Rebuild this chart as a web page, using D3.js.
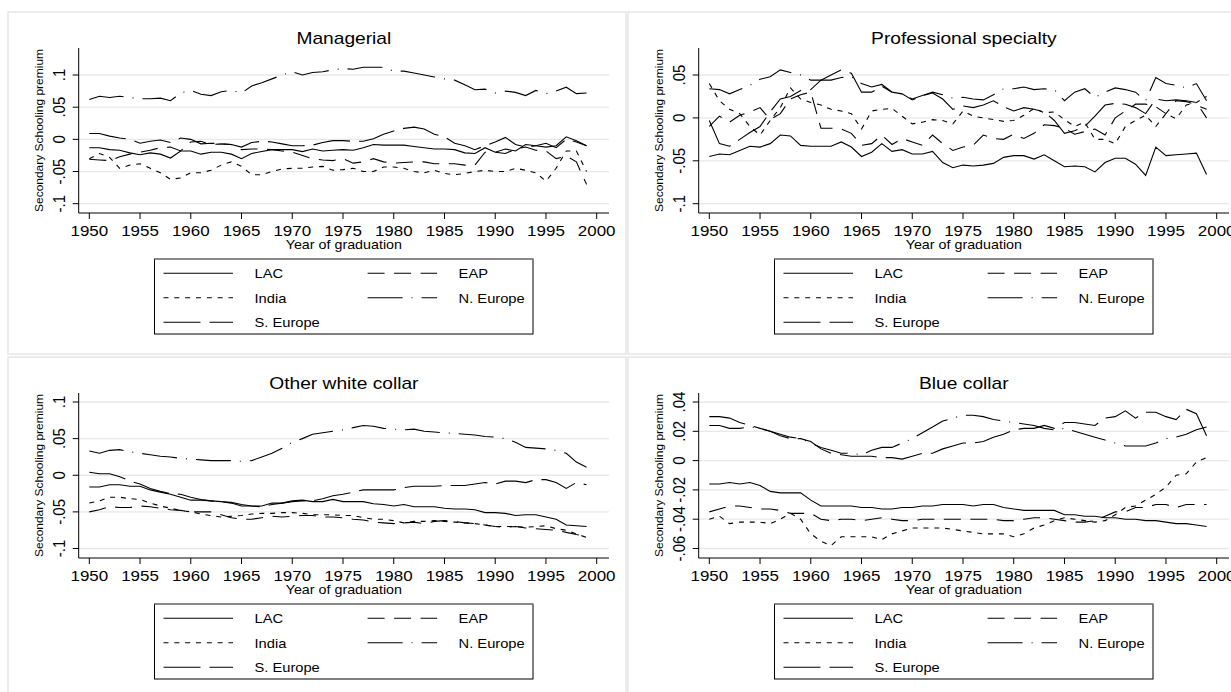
<!DOCTYPE html>
<html>
<head>
<meta charset="utf-8">
<script src="https://cdn.jsdelivr.net/npm/d3@7"></script>
<style>
  body { margin: 0; background: #fff; }
  svg { display: block; }
  text { font-family: "Liberation Sans", Arial, sans-serif; fill: #000; }
</style>
</head>
<body>
<svg id="chart" width="1231" height="692"></svg>
<script>
// x values: year of graduation
const years = [1950,1951,1952,1953,1954,1955,1956,1957,1958,1959,
  1960,1961,1962,1963,1964,1965,1966,1967,1968,1969,
  1970,1971,1972,1973,1974,1975,1976,1977,1978,1979,
  1980,1981,1982,1983,1984,1985,1986,1987,1988,1989,
  1990,1991,1992,1993,1994,1995,1996,1997,1998,1999];
const xTicks = [1950,1955,1960,1965,1970,1975,1980,1985,1990,1995,2000];
const seriesNames = ["LAC", "EAP", "India", "N. Europe", "S. Europe"];

// Managerial
const managerialLAC = [-.013,-.013,-.016,-.017,-.021,-.024,-.021,-.023,-.029,-.018,
  -.018,-.023,-.02,-.02,-.023,-.03,-.022,-.019,-.016,-.016,
  -.016,-.019,-.015,-.018,-.017,-.016,-.017,-.013,-.008,-.009,
  -.009,-.009,-.011,-.013,-.015,-.015,-.016,-.021,-.022,-.013,
  -.02,-.015,-.018,-.008,-.01,-.012,-.01,.004,-.002,-.01];
const managerialEAP = [-.031,-.032,-.033,-.027,-.023,-.02,-.017,-.013,-.012,-.018,
  -.004,-.003,-.008,-.007,-.008,-.016,-.015,-.015,-.016,-.018,
  -.02,-.025,-.03,-.032,-.033,-.03,-.037,-.035,-.03,-.035,
  -.037,-.036,-.035,-.035,-.038,-.038,-.038,-.04,-.04,-.02,
  -.02,-.022,-.015,-.012,-.017,-.018,-.03,-.026,-.035,-.07];
const managerialIndia = [-.03,-.022,-.028,-.045,-.04,-.038,-.045,-.052,-.062,-.06,
  -.052,-.052,-.048,-.04,-.035,-.042,-.055,-.055,-.05,-.046,
  -.045,-.045,-.043,-.042,-.048,-.047,-.045,-.05,-.05,-.043,
  -.043,-.045,-.05,-.052,-.048,-.053,-.055,-.053,-.05,-.048,
  -.05,-.05,-.045,-.048,-.052,-.065,-.045,-.018,-.018,-.05];
const managerialNEurope = [.062,.067,.065,.067,.065,.063,.063,.064,.06,.072,
  .076,.07,.068,.074,.076,.072,.083,.088,.094,.1,
  .105,.1,.104,.105,.108,.11,.109,.112,.112,.112,
  .106,.106,.103,.1,.097,.094,.092,.085,.077,.078,
  .072,.075,.073,.068,.076,.071,.075,.081,.071,.072];
const managerialSEurope = [.009,.009,.005,.002,0,-.006,-.003,-.001,-.005,.002,
  0,-.007,-.006,-.007,-.008,-.012,-.005,-.003,-.004,-.007,
  -.01,-.01,-.009,-.005,-.002,-.002,-.003,-.003,.001,.008,
  .013,.017,.019,.016,.008,.004,-.006,-.01,-.016,-.01,
  -.004,.003,-.008,-.012,-.01,-.006,-.013,0,-.004,-.01];

// Professional specialty
const profLAC = [-.045,-.042,-.043,-.038,-.033,-.034,-.03,-.02,-.021,-.032,
  -.033,-.033,-.033,-.028,-.034,-.045,-.04,-.03,-.039,-.037,
  -.042,-.042,-.039,-.052,-.058,-.055,-.056,-.055,-.053,-.046,
  -.044,-.044,-.048,-.043,-.05,-.057,-.056,-.057,-.063,-.052,
  -.047,-.047,-.054,-.067,-.034,-.044,-.043,-.042,-.041,-.066];
const profEAP = [-.01,.002,-.005,.003,.007,.012,-.002,.005,.022,.027,
  .03,-.012,-.012,-.013,-.018,-.032,-.03,-.02,-.031,-.024,
  -.028,-.032,-.02,-.03,-.038,-.034,-.032,-.02,-.024,-.025,
  -.019,-.024,-.018,-.008,-.009,-.012,-.019,-.016,-.013,-.02,
  0,.008,.016,.016,.013,.005,.02,.019,.015,.01];
const profIndia = [.04,.02,.01,.005,-.01,-.02,-.003,.012,.035,.022,
  .018,.015,.01,.008,.005,-.013,.008,.01,.011,.002,
  -.007,-.005,-.002,-.003,-.007,.008,.002,0,-.002,-.004,
  -.003,.003,.011,.006,.007,-.002,-.01,-.005,-.025,-.025,
  -.03,-.01,-.003,.003,-.01,.005,-.001,.015,.018,.025];
const profNEurope = [.034,.033,.028,.033,.038,.045,.048,.056,.053,.05,
  .044,.044,.044,.047,.048,.04,.036,.039,.03,.028,
  .022,.026,.03,.027,.023,.024,.022,.021,.027,.034,
  .034,.036,.033,.034,.033,.02,.03,.034,.024,.03,
  .035,.033,.03,.02,.047,.04,.038,.035,.04,.02];
const profSEurope = [-.003,-.03,-.033,-.025,-.017,-.01,.007,.022,.025,.032,
  .033,.044,.05,.056,.052,.03,.03,.037,.03,.028,
  .021,.026,.029,.022,.01,.014,.012,.015,.02,.013,
  .008,.012,.01,.007,-.003,-.018,-.015,-.01,.002,.015,
  .017,.016,.012,.005,.022,.02,.021,.02,.018,0];

// Other white collar
const owcLAC = [-.016,-.016,-.013,-.013,-.015,-.015,-.02,-.023,-.026,-.03,
  -.034,-.034,-.035,-.036,-.038,-.042,-.042,-.042,-.038,-.038,
  -.035,-.034,-.036,-.036,-.033,-.036,-.036,-.036,-.039,-.04,
  -.042,-.04,-.043,-.043,-.043,-.045,-.046,-.046,-.047,-.051,
  -.051,-.052,-.055,-.054,-.054,-.057,-.06,-.068,-.069,-.07];
const owcEAP = [-.05,-.047,-.043,-.044,-.044,-.042,-.043,-.045,-.047,-.048,
  -.05,-.05,-.05,-.054,-.058,-.06,-.06,-.058,-.056,-.057,
  -.056,-.055,-.055,-.057,-.057,-.058,-.06,-.061,-.064,-.065,
  -.066,-.065,-.064,-.066,-.063,-.062,-.063,-.065,-.066,-.068,
  -.07,-.071,-.07,-.072,-.073,-.074,-.075,-.078,-.081,-.083];
const owcIndia = [-.038,-.035,-.03,-.03,-.032,-.033,-.038,-.042,-.045,-.048,
  -.05,-.053,-.055,-.057,-.056,-.055,-.053,-.052,-.052,-.051,
  -.051,-.052,-.054,-.054,-.054,-.055,-.055,-.058,-.06,-.06,
  -.062,-.065,-.063,-.063,-.062,-.063,-.064,-.065,-.066,-.068,
  -.07,-.07,-.07,-.071,-.07,-.069,-.073,-.075,-.08,-.085];
const owcNEurope = [.033,.03,.034,.035,.032,.03,.028,.026,.025,.023,
  .022,.021,.02,.02,.02,.019,.02,.025,.03,.037,
  .045,.05,.056,.058,.06,.062,.065,.068,.067,.064,
  .063,.062,.063,.06,.059,.058,.057,.056,.055,.053,
  .052,.05,.045,.038,.037,.036,.034,.03,.018,.011];
const owcSEurope = [.004,.002,.002,-.002,-.008,-.012,-.018,-.022,-.025,-.026,
  -.03,-.033,-.035,-.036,-.037,-.04,-.042,-.043,-.04,-.038,
  -.036,-.035,-.035,-.032,-.028,-.026,-.023,-.02,-.02,-.02,
  -.02,-.017,-.015,-.015,-.015,-.014,-.014,-.014,-.012,-.01,
  -.012,-.008,-.008,-.01,-.006,-.006,-.01,-.018,-.01,-.013];

// Blue collar
const bcLAC = [-.016,-.016,-.015,-.016,-.015,-.017,-.021,-.022,-.022,-.022,
  -.027,-.031,-.031,-.031,-.031,-.032,-.032,-.033,-.033,-.032,
  -.032,-.031,-.031,-.03,-.03,-.03,-.031,-.03,-.03,-.032,
  -.033,-.034,-.034,-.034,-.034,-.037,-.037,-.038,-.038,-.039,
  -.039,-.04,-.04,-.041,-.041,-.042,-.043,-.043,-.044,-.045];
const bcEAP = [-.035,-.033,-.031,-.031,-.032,-.033,-.033,-.034,-.036,-.036,
  -.036,-.04,-.041,-.04,-.04,-.041,-.04,-.039,-.04,-.041,
  -.041,-.04,-.04,-.04,-.04,-.04,-.04,-.04,-.04,-.041,
  -.041,-.04,-.039,-.039,-.04,-.041,-.042,-.042,-.041,-.038,
  -.035,-.035,-.032,-.032,-.03,-.03,-.032,-.03,-.03,-.03];
const bcIndia = [-.04,-.038,-.043,-.042,-.042,-.042,-.043,-.04,-.036,-.04,
  -.05,-.055,-.058,-.052,-.052,-.052,-.052,-.054,-.05,-.048,
  -.046,-.046,-.046,-.046,-.047,-.048,-.049,-.05,-.05,-.05,
  -.052,-.05,-.046,-.044,-.041,-.039,-.04,-.041,-.042,-.041,
  -.037,-.032,-.031,-.027,-.023,-.018,-.01,-.009,-.001,.002];
const bcNEurope = [.024,.024,.022,.022,.023,.022,.02,.018,.016,.015,
  .012,.009,.007,.005,.005,.004,.007,.009,.009,.012,
  .015,.019,.023,.027,.029,.031,.031,.03,.028,.027,
  .026,.025,.024,.022,.021,.022,.02,.018,.016,.014,
  .012,.01,.01,.01,.012,.015,.016,.018,.021,.023];
const bcSEurope = [.03,.03,.029,.026,.024,.022,.02,.017,.015,.015,
  .013,.008,.005,.004,.003,.003,.003,.002,.002,.001,
  .003,.005,.005,.008,.01,.012,.012,.013,.016,.018,
  .021,.022,.022,.024,.022,.026,.026,.025,.024,.029,
  .03,.034,.029,.033,.033,.03,.028,.035,.032,.017];

// y axis ticks and their labels, per panel
const managerialTicks = [-.1, -.05, 0, .05, .1];
const managerialTickLabels = ["-.1", "-.05", "0", ".05", ".1"];
const profTicks = [-.1, -.05, 0, .05];
const profTickLabels = ["-.1", "-.05", "0", ".05"];
const owcTicks = [-.1, -.05, 0, .05, .1];
const owcTickLabels = ["-.1", "-.05", "0", ".05", ".1"];
const bcTicks = [-.06, -.04, -.02, 0, .02, .04];
const bcTickLabels = ["-.06", "-.04", "-.02", "0", ".02", ".04"];

// line patterns (Stata-ish)
const dashes = {
  "LAC": null,
  "EAP": "17,9.5",
  "India": "5,5.83",
  "N. Europe": "35,9,1,9",
  "S. Europe": "37,9"
};

const panels = [
  { title: "Managerial", ox: 8, oy: 12, ticks: managerialTicks, labels: managerialTickLabels, yTop: 63, yBot: 191.7,
    data: [managerialLAC, managerialEAP, managerialIndia, managerialNEurope, managerialSEurope] },
  { title: "Professional specialty", ox: 628, oy: 12, ticks: profTicks, labels: profTickLabels, yTop: 63, yBot: 191.7,
    data: [profLAC, profEAP, profIndia, profNEurope, profSEurope] },
  { title: "Other white collar", ox: 8, oy: 357, ticks: owcTicks, labels: owcTickLabels, yTop: 45, yBot: 191.5,
    data: [owcLAC, owcEAP, owcIndia, owcNEurope, owcSEurope] },
  { title: "Blue collar", ox: 628, oy: 357, ticks: bcTicks, labels: bcTickLabels, yTop: 45, yBot: 191.5,
    data: [bcLAC, bcEAP, bcIndia, bcNEurope, bcSEurope] }
];

const svg = d3.select("#chart");

// plot region inside each panel
const plotLeft = 70.7, plotRight = 601, axisTop = 36, axisBottom = 201;
const plotMid = (plotLeft + plotRight) / 2;
const x = d3.scaleLinear().domain([1950, 2000]).range([81.3, 588.7]);

// the picture is a bit wider than tall, so text is stretched sideways
const sx = 1.13;

panels.forEach(p => {
  const g = svg.append("g").attr("transform", `translate(${p.ox},${p.oy})`);

  // panel frame
  g.append("rect")
    .attr("x", 0).attr("y", 0).attr("width", 618).attr("height", 342)
    .attr("fill", "#fff").attr("stroke", "#e6e6e6").attr("stroke-width", 1.5);

  const lo = p.ticks[0], hi = p.ticks[p.ticks.length - 1];
  const y = d3.scaleLinear().domain([lo, hi]).range([p.yBot, p.yTop]);

  // gridlines
  g.selectAll(".grid").data(p.ticks).enter().append("line")
    .attr("x1", plotLeft).attr("x2", plotRight)
    .attr("y1", d => y(d)).attr("y2", d => y(d))
    .attr("stroke", "#e8e8e8").attr("stroke-width", 1.3);

  // y axis
  g.append("line").attr("x1", plotLeft).attr("x2", plotLeft)
    .attr("y1", axisTop).attr("y2", axisBottom).attr("stroke", "#000").attr("stroke-width", 1);
  g.selectAll(".ytick").data(p.ticks).enter().append("line")
    .attr("x1", plotLeft - 6).attr("x2", plotLeft)
    .attr("y1", d => y(d)).attr("y2", d => y(d))
    .attr("stroke", "#000").attr("stroke-width", 1);
  g.selectAll(".ylab").data(p.ticks).enter().append("text")
    .attr("transform", d => `translate(56.5,${y(d)}) scale(${sx},1) rotate(-90)`)
    .attr("text-anchor", "middle")
    .style("font-size", "15px")
    .text((d, i) => p.labels[i]);

  g.append("text")
    .attr("transform", `translate(35,${(axisTop + axisBottom) / 2}) rotate(-90)`)
    .attr("text-anchor", "middle")
    .attr("textLength", 163).attr("lengthAdjust", "spacingAndGlyphs")
    .style("font-size", "11px")
    .text("Secondary Schooling premium");

  // x axis
  g.append("line").attr("x1", plotLeft).attr("x2", plotRight)
    .attr("y1", axisBottom).attr("y2", axisBottom).attr("stroke", "#000").attr("stroke-width", 1);
  g.selectAll(".xtick").data(xTicks).enter().append("line")
    .attr("x1", d => x(d)).attr("x2", d => x(d))
    .attr("y1", axisBottom).attr("y2", axisBottom + 6)
    .attr("stroke", "#000").attr("stroke-width", 1);
  g.selectAll(".xlab").data(xTicks).enter().append("text")
    .attr("transform", d => `translate(${x(d)},224.4) scale(${sx},1)`)
    .attr("text-anchor", "middle")
    .style("font-size", "15px")
    .text(d => d);

  g.append("text")
    .attr("transform", `translate(${plotMid},237) scale(1.1,1)`)
    .attr("text-anchor", "middle")
    .style("font-size", "13px")
    .text("Year of graduation");

  // title
  g.append("text")
    .attr("transform", `translate(${plotMid},32) scale(1.2,1)`)
    .attr("text-anchor", "middle")
    .style("font-size", "16px")
    .text(p.title);

  // series
  const line = d3.line().x((d, i) => x(years[i])).y(d => y(d));
  p.data.forEach((vals, k) => {
    g.append("path")
      .datum(vals)
      .attr("d", line)
      .attr("fill", "none")
      .attr("stroke", "#000")
      .attr("stroke-width", 1.1)
      .attr("stroke-dasharray", dashes[seriesNames[k]]);
  });

  // legend
  const lg = g.append("g");
  lg.append("rect").attr("x", 146.5).attr("y", 247).attr("width", 378.5).attr("height", 75)
    .attr("fill", "#fff").attr("stroke", "#000").attr("stroke-width", 1);
  lg.append("line").attr("x1", 146.5).attr("x2", 525).attr("y1", 247).attr("y2", 247)
    .attr("stroke", "#8c8c8c").attr("stroke-width", 1.6);
  seriesNames.forEach((name, k) => {
    const col = k % 2, row = Math.floor(k / 2);
    const lx = col === 0 ? 155.5 : 359.6;
    const ly = 261.3 + row * 24.5;
    lg.append("line").attr("x1", lx).attr("x2", lx + 69.5).attr("y1", ly).attr("y2", ly)
      .attr("stroke", "#000").attr("stroke-width", 1.1)
      .attr("stroke-dasharray", dashes[name]);
    lg.append("text")
      .attr("transform", `translate(${lx + 91},${ly + 4.7}) scale(${sx},1)`)
      .style("font-size", "13px")
      .text(name);
  });
});
</script>
</body>
</html>
